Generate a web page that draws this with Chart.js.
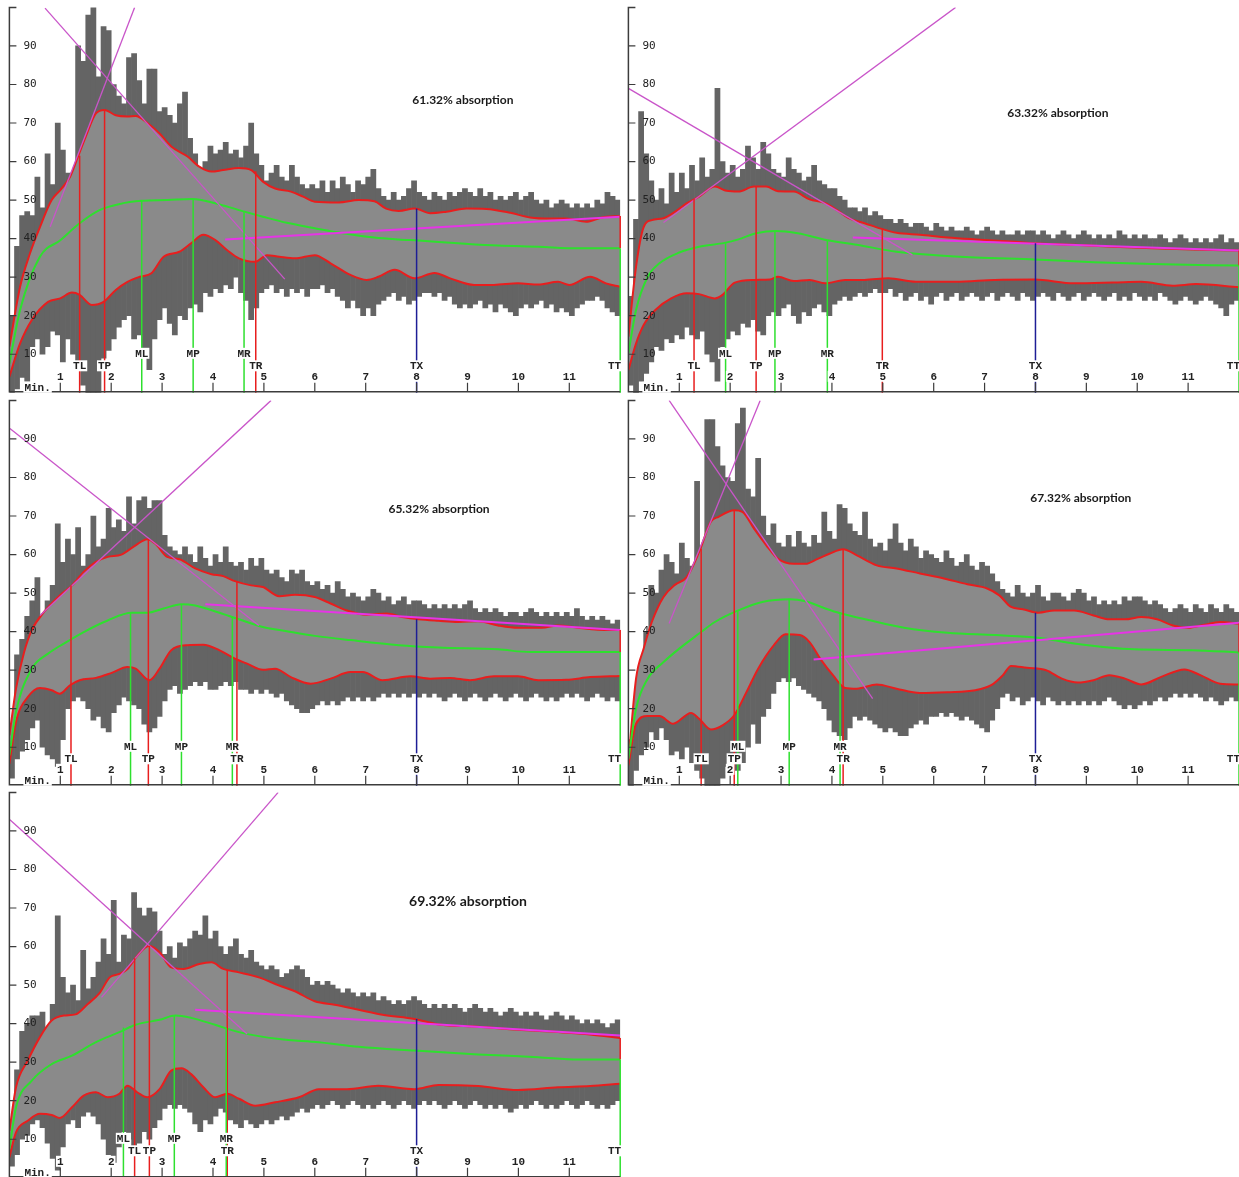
<!DOCTYPE html>
<html>
<head>
<meta charset="utf-8">
<script src="https://cdn.jsdelivr.net/npm/chart.js@4.4.1/dist/chart.umd.min.js"></script>
<style>
  html, body { margin: 0; padding: 0; background: #fff; overflow: hidden; }
  body { width: 1239px; height: 1177px; position: relative; }
  .panel { position: absolute; }
  canvas { display: block; }
</style>
</head>
<body>
<div class="panel" style="left:0;top:0"><canvas id="c1" width="622" height="394"></canvas></div>
<div class="panel" style="left:619px;top:0"><canvas id="c2" width="620" height="394"></canvas></div>
<div class="panel" style="left:0;top:393px"><canvas id="c3" width="622" height="394"></canvas></div>
<div class="panel" style="left:619px;top:393px"><canvas id="c4" width="620" height="394"></canvas></div>
<div class="panel" style="left:0;top:785px"><canvas id="c5" width="622" height="394"></canvas></div>
<script>
// ---- axes ----
const yTicks = [10, 20, 30, 40, 50, 60, 70, 80, 90];
const xTicks = [1, 2, 3, 4, 5, 6, 7, 8, 9, 10, 11];

// centre of each 0.1 min sample bin of the raw signal
const binMinutes = [
  0.05, 0.15, 0.25, 0.35, 0.45, 0.55, 0.65, 0.75, 0.85, 0.95,
  1.05, 1.15, 1.25, 1.35, 1.45, 1.55, 1.65, 1.75, 1.85, 1.95,
  2.05, 2.15, 2.25, 2.35, 2.45, 2.55, 2.65, 2.75, 2.85, 2.95,
  3.05, 3.15, 3.25, 3.35, 3.45, 3.55, 3.65, 3.75, 3.85, 3.95,
  4.05, 4.15, 4.25, 4.35, 4.45, 4.55, 4.65, 4.75, 4.85, 4.95,
  5.05, 5.15, 5.25, 5.35, 5.45, 5.55, 5.65, 5.75, 5.85, 5.95,
  6.05, 6.15, 6.25, 6.35, 6.45, 6.55, 6.65, 6.75, 6.85, 6.95,
  7.05, 7.15, 7.25, 7.35, 7.45, 7.55, 7.65, 7.75, 7.85, 7.95,
  8.05, 8.15, 8.25, 8.35, 8.45, 8.55, 8.65, 8.75, 8.85, 8.95,
  9.05, 9.15, 9.25, 9.35, 9.45, 9.55, 9.65, 9.75, 9.85, 9.95,
  10.05, 10.15, 10.25, 10.35, 10.45, 10.55, 10.65, 10.75, 10.85, 10.95,
  11.05, 11.15, 11.25, 11.35, 11.45, 11.55, 11.65, 11.75, 11.85, 11.95
];

const absorptionText = ['61.32% absorption', '63.32% absorption', '65.32% absorption', '67.32% absorption', '69.32% absorption'];

// ---- 61.32% ----
const p1Hi = [
  20, 38, 46, 47, 46, 56, 48, 62, 54, 70,
  63, 57, 54, 90, 86, 98, 100, 82, 95, 94,
  80, 77, 75, 87, 88, 81, 75, 84, 84, 73,
  74, 72, 70, 75, 78, 66, 62, 58, 60, 64,
  62, 63, 65, 62, 63, 61, 64, 70, 62, 59,
  55, 57, 59, 56, 55, 59, 56, 54, 53, 54,
  53, 55, 52, 55, 53, 56, 54, 52, 55, 54,
  56, 58, 53, 51, 50, 52, 50, 51, 53, 55,
  52, 51, 50, 52, 51, 50, 52, 51, 52, 53,
  52, 51, 53, 51, 52, 50, 51, 50, 51, 52,
  50, 51, 52, 50, 49, 50, 48, 49, 50, 49,
  48, 49, 48, 49, 48, 50, 49, 52, 51, 50
];
const p1Lo = [
  0, 1, 4, 3, 12, 14, 10, 12, 16, 15,
  8, 14, 10, 7, 2, 0, 0, 0, 9, 11,
  14, 17, 19, 20, 14, 15, 10, 6, 14, 19,
  22, 18, 15, 20, 19, 22, 23, 21, 26, 25,
  27, 26, 28, 27, 30, 26, 24, 19, 22, 26,
  27, 28, 26, 27, 25, 27, 26, 27, 25, 27,
  27, 28, 26, 27, 25, 24, 22, 24, 22, 20,
  22, 20, 23, 24, 25, 26, 24, 25, 23, 24,
  25, 26, 26, 25, 26, 24, 25, 23, 22, 23,
  22, 23, 24, 22, 23, 21, 23, 22, 21, 20,
  22, 23, 22, 23, 24, 22, 23, 21, 22, 21,
  20, 22, 23, 24, 24, 25, 24, 22, 21, 20
];
const p1Upper = [[0, 12], [0.21, 27.5], [0.4, 36], [0.6, 43], [0.83, 50], [1.0, 52.6], [1.19, 56], [1.34, 61], [1.5, 66.5], [1.7, 72.5], [1.87, 73.4], [2.09, 72], [2.32, 71.7], [2.48, 71.8], [2.71, 70], [2.95, 67.3], [3.18, 63.9], [3.5, 61.3], [3.73, 58.7], [3.97, 57.4], [4.2, 57.8], [4.51, 58.3], [4.75, 57.8], [4.98, 54.8], [5.22, 53], [5.53, 52.2], [5.77, 50.9], [6.0, 49.6], [6.47, 49.4], [6.86, 50], [7.17, 49.7], [7.4, 47.8], [7.65, 47.2], [7.96, 47.8], [8.27, 46.6], [8.59, 47], [8.98, 47.8], [9.37, 47.7], [9.84, 46.7], [10.23, 45.5], [10.62, 45.2], [10.94, 45.2], [11.33, 44.4], [11.64, 45.5], [12, 45.9]];
const p1Lower = [[0, 4.2], [0.21, 12.8], [0.44, 18.9], [0.76, 23.6], [1.0, 24.5], [1.23, 26], [1.38, 25.4], [1.62, 22.8], [1.85, 23.6], [2.09, 26.7], [2.32, 28.8], [2.56, 30.1], [2.79, 31], [3.03, 35.3], [3.34, 36.6], [3.57, 38.8], [3.81, 41], [4.04, 39.7], [4.28, 37], [4.51, 34.9], [4.83, 34], [5.06, 35.7], [5.3, 35.3], [5.61, 34.9], [6.0, 35.7], [6.31, 33.6], [6.7, 30.6], [7.02, 29.3], [7.25, 30.1], [7.57, 31.9], [7.96, 29.7], [8.35, 31.1], [8.66, 29.7], [9.13, 28], [9.52, 28], [9.99, 28.4], [10.39, 28.1], [10.78, 28.8], [11.0, 28], [11.41, 30.1], [11.72, 28.4], [12, 27.5]];
const p1Mean = [[0, 7.6], [0.21, 21.5], [0.6, 35.3], [1.0, 39.6], [1.38, 44], [1.77, 47.4], [2.17, 49], [2.6, 49.8], [3.1, 50], [3.6, 50.3], [4.04, 49.2], [4.51, 47.4], [4.98, 45.7], [5.45, 44.1], [6.0, 42.7], [6.55, 41.4], [7.17, 40.3], [7.65, 39.8], [8.04, 39.5], [8.82, 38.8], [9.6, 38.2], [10.39, 37.9], [11.17, 37.5], [12, 37.5]];
const p1Falling = [[0.7, 99.8], [5.41, 29.5]];
const p1Rising = [[0.8, 43.1], [2.46, 100]];
const p1Plateau = [[4.24, 39.8], [12, 45.7]];
const p1MarkerNames = ['TL', 'TP', 'ML', 'MP', 'MR', 'TR', 'TX', 'TT'];
const p1MarkerMinutes = [1.38, 1.87, 2.6, 3.61, 4.61, 4.84, 8, 12];
const p1MarkerTops = [61.5, 73.4, 49.8, 50.3, 47.2, 57.5, 47.8, 37.5];

// ---- 63.32% ----
const p2Hi = [
  25, 45, 73, 62, 55, 50, 53, 49, 57, 52,
  57, 53, 59, 55, 61, 56, 58, 79, 60, 57,
  59, 56, 58, 64, 61, 58, 65, 62, 58, 57,
  56, 61, 58, 57, 55, 56, 59, 55, 54, 53,
  53, 51, 50, 48, 48, 47, 48, 46, 47, 46,
  45, 45, 44, 45, 44, 43, 44, 44, 43, 42,
  44, 43, 42, 43, 42, 42, 43, 42, 41, 42,
  43, 42, 41, 42, 41, 41, 42, 41, 42, 42,
  41, 42, 41, 40, 41, 42, 41, 40, 41, 42,
  41, 40, 41, 40, 41, 40, 42, 41, 40, 41,
  40, 41, 40, 40, 41, 40, 39, 40, 41, 40,
  39, 40, 39, 40, 39, 40, 41, 39, 40, 39
];
const p2Lo = [
  2, 0, 3, 5, 8, 12, 11, 14, 13, 15,
  14, 17, 15, 14, 16, 10, 8, 3, 12, 14,
  16, 15, 18, 17, 19, 16, 15, 20, 21, 20,
  22, 23, 20, 18, 21, 20, 22, 23, 21, 20,
  23, 24, 25, 24, 25, 26, 25, 26, 27, 26,
  26, 27, 25, 26, 24, 25, 26, 24, 25, 23,
  25, 26, 24, 25, 26, 24, 25, 26, 25, 24,
  25, 26, 24, 25, 26, 25, 24, 26, 25, 24,
  25, 26, 25, 24, 26, 25, 24, 25, 26, 24,
  25, 26, 25, 24, 25, 26, 24, 25, 24, 26,
  25, 24, 25, 24, 26, 25, 24, 23, 24, 25,
  24, 23, 24, 25, 24, 23, 22, 20, 23, 24
];
const p2Upper = [[0, 14.6], [0.15, 32.7], [0.3, 43], [0.46, 44.8], [0.69, 45.3], [0.92, 47], [1.15, 49.2], [1.39, 50.9], [1.7, 53.5], [1.93, 52.4], [2.16, 52.2], [2.47, 53.5], [2.71, 53.5], [2.94, 52.3], [3.25, 52.2], [3.56, 50.2], [3.87, 49.2], [4.1, 47.4], [4.33, 45.3], [4.64, 44], [4.96, 42.6], [5.27, 41.5], [5.73, 41], [6.27, 40.3], [6.82, 39.8], [7.59, 39.2], [7.98, 38.8], [8.76, 38.4], [9.53, 37.9], [10.31, 37.5], [11.08, 37.2], [12, 36.9]];
const p2Lower = [[0, 5.9], [0.15, 12.8], [0.3, 17.6], [0.53, 21.5], [0.84, 24.5], [1.15, 25.8], [1.39, 25.6], [1.7, 24.5], [1.85, 25.4], [2.09, 28.6], [2.47, 29.3], [2.78, 29.4], [2.94, 30.1], [3.25, 29], [3.56, 29.3], [3.87, 28.4], [4.26, 29.3], [4.64, 29.3], [5.11, 29.7], [5.65, 28.8], [6.43, 28.8], [7.2, 29.3], [7.98, 29.4], [8.76, 28.4], [9.53, 28.6], [10.08, 28.8], [10.7, 27.8], [11.16, 28.2], [12, 27.4]];
const p2Mean = [[0, 10.2], [0.15, 21.5], [0.38, 30.1], [0.61, 33.6], [1.0, 36.4], [1.39, 37.9], [1.89, 38.9], [2.16, 39.8], [2.51, 41.4], [2.9, 42], [3.33, 41.4], [3.91, 39.6], [4.49, 38.4], [5.27, 36.6], [6.04, 35.7], [6.82, 35.1], [7.98, 34.6], [9.14, 33.9], [10.31, 33.4], [12, 33]];
const p2Falling = [[0, 79], [5.58, 35.8]];
const p2Rising = [[0.69, 44.2], [6.43, 100]];
const p2Plateau = [[4.41, 40.3], [12, 36.9]];
const p2MarkerNames = ['TL', 'ML', 'TP', 'MP', 'MR', 'TR', 'TX', 'TT'];
const p2MarkerMinutes = [1.29, 1.91, 2.51, 2.88, 3.91, 4.99, 8, 12];
const p2MarkerTops = [50.3, 38.9, 53.5, 42, 39.6, 42.6, 38.8, 33];

// ---- 65.32% ----
const p3Hi = [
  15, 34, 38, 44, 48, 54, 42, 48, 52, 68,
  58, 64, 60, 67, 57, 60, 70, 62, 64, 72,
  67, 69, 66, 75, 68, 74, 75, 72, 74, 74,
  65, 62, 61, 60, 62, 60, 58, 62, 59, 57,
  60, 58, 62, 58, 57, 58, 56, 59, 57, 59,
  56, 55, 56, 54, 53, 56, 55, 56, 53, 52,
  53, 51, 52, 50, 53, 51, 49, 50, 49, 48,
  49, 51, 50, 48, 49, 47, 48, 49, 47, 48,
  48, 47, 46, 47, 46, 47, 46, 47, 46, 47,
  48, 46, 45, 46, 45, 46, 45, 44, 45, 45,
  44, 45, 46, 45, 44, 45, 44, 45, 44, 45,
  44, 46, 44, 43, 44, 43, 44, 43, 42, 43
];
const p3Lo = [
  2, 7, 9, 12, 15, 17, 10, 8, 7, 5,
  12, 20, 22, 23, 22, 20, 17, 18, 15, 14,
  19, 21, 23, 22, 21, 20, 16, 14, 15, 18,
  22, 25, 26, 24, 25, 26, 27, 26, 27, 25,
  25, 26, 27, 26, 27, 25, 25, 24, 25, 24,
  25, 24, 23, 24, 22, 21, 20, 19, 19, 20,
  21, 22, 21, 22, 21, 22, 23, 22, 23, 22,
  23, 22, 23, 24, 23, 24, 23, 24, 23, 24,
  23, 24, 23, 24, 23, 22, 23, 24, 23, 22,
  23, 24, 23, 22, 23, 24, 23, 22, 23, 24,
  23, 22, 23, 24, 23, 22, 23, 22, 23, 24,
  23, 24, 23, 22, 23, 24, 23, 22, 23, 22
];
const p3Upper = [[0, 13.1], [0.13, 25.2], [0.29, 34.7], [0.44, 40.4], [0.68, 45.1], [0.99, 49.4], [1.23, 52], [1.46, 55.5], [1.7, 58.1], [1.93, 59.4], [2.2, 60], [2.48, 62.4], [2.71, 64], [2.87, 62.8], [3.1, 59.4], [3.34, 58.8], [3.65, 56.4], [3.97, 54.9], [4.2, 54.4], [4.43, 53.1], [4.75, 52], [4.98, 51.6], [5.3, 49.2], [5.61, 49.6], [6.0, 49], [6.31, 47.3], [6.63, 45.5], [7.02, 44.4], [7.41, 44.7], [7.72, 43.8], [8.04, 43.2], [8.43, 42.8], [8.82, 42.5], [9.21, 42.7], [9.6, 41.6], [9.99, 41], [10.46, 41], [10.78, 41.6], [11.17, 41], [11.56, 40.5], [12, 40.4]];
const p3Lower = [[0, 5.7], [0.13, 16.6], [0.36, 23], [0.6, 25.4], [0.83, 24.8], [0.99, 23.9], [1.19, 26.1], [1.38, 27.4], [1.7, 28], [2.01, 29.3], [2.32, 30.8], [2.48, 30.4], [2.75, 27.4], [2.95, 30.4], [3.18, 35.2], [3.5, 36.5], [3.81, 36.6], [4.12, 35.2], [4.43, 33], [4.67, 31.7], [4.98, 30.1], [5.22, 30.4], [5.53, 28.2], [5.92, 26.5], [6.31, 27.8], [6.7, 29.5], [6.94, 29.5], [7.33, 27.4], [7.88, 28.4], [8.27, 27.8], [8.66, 28], [9.05, 27.4], [9.52, 28.4], [9.99, 28.4], [10.39, 27.4], [10.94, 27.5], [11.41, 28.2], [12, 28.5]];
const p3Mean = [[0, 7.9], [0.13, 19.2], [0.44, 30.4], [0.76, 34.3], [1.07, 36.9], [1.46, 39.9], [1.93, 42.9], [2.4, 44.9], [2.71, 44.9], [3.03, 46], [3.38, 47.1], [3.65, 46.8], [4.08, 45.1], [4.51, 43.2], [4.98, 41.2], [5.45, 40.1], [6.0, 38.9], [6.7, 37.8], [7.65, 36.5], [8.43, 35.9], [9.6, 35.4], [10.23, 34.7], [12, 34.7]];
const p3Falling = [[0.01, 92.7], [4.9, 41.6]];
const p3Rising = [[0.6, 44.2], [5.14, 100]];
const p3Plateau = [[3.85, 47.1], [12, 40.4]];
const p3MarkerNames = ['TL', 'ML', 'TP', 'MP', 'MR', 'TR', 'TX', 'TT'];
const p3MarkerMinutes = [1.21, 2.38, 2.73, 3.38, 4.38, 4.47, 8, 12];
const p3MarkerTops = [52, 44.9, 64, 47.1, 43.6, 53, 43.2, 34.7];

// ---- 67.32% ----
const p4Hi = [
  12, 22, 30, 40, 52, 50, 56, 60, 58, 55,
  63, 59, 57, 79, 58, 95, 95, 88, 83, 80,
  79, 94, 98, 77, 75, 85, 70, 65, 68, 63,
  62, 65, 62, 66, 63, 62, 65, 63, 71, 66,
  64, 73, 72, 68, 66, 65, 71, 64, 62, 63,
  61, 64, 68, 63, 61, 64, 62, 59, 61, 60,
  59, 58, 61, 59, 57, 58, 60, 57, 56, 58,
  57, 55, 53, 51, 50, 49, 52, 50, 49, 50,
  52, 49, 48, 50, 50, 49, 48, 50, 51, 50,
  48, 49, 47, 48, 47, 48, 47, 49, 48, 49,
  49, 48, 47, 48, 47, 46, 45, 46, 47, 46,
  45, 47, 46, 45, 47, 46, 45, 47, 46, 45
];
const p4Lo = [
  0, 4, 8, 10, 14, 12, 15, 12, 8, 9,
  7, 10, 6, 4, 2, 0, 0, 0, 2, 5,
  6, 4, 6, 10, 16, 11, 18, 20, 24, 27,
  28, 27, 28, 26, 25, 24, 23, 22, 20, 17,
  14, 13, 12, 15, 18, 17, 18, 17, 16, 15,
  14, 15, 14, 13, 13, 15, 16, 17, 16, 18,
  18, 19, 18, 19, 18, 17, 18, 17, 16, 15,
  14, 17, 20, 23, 24, 22, 23, 21, 22, 23,
  22, 21, 23, 22, 21, 22, 21, 22, 21, 22,
  21, 22, 21, 22, 23, 22, 21, 20, 21, 20,
  21, 22, 21, 22, 23, 22, 23, 24, 23, 24,
  23, 24, 23, 22, 23, 22, 21, 22, 23, 22
];
const p4Upper = [[0, 6.2], [0.15, 27.8], [0.3, 35.6], [0.46, 42.5], [0.69, 49], [0.92, 52.2], [1.15, 54.2], [1.39, 60.7], [1.62, 68.5], [1.77, 69.8], [2.08, 71.5], [2.24, 71.1], [2.47, 66.7], [2.71, 62.4], [2.94, 58.9], [3.25, 57.6], [3.48, 57.6], [3.72, 58.9], [3.95, 60.2], [4.22, 61.4], [4.49, 59.8], [4.88, 57.2], [5.27, 56.4], [5.73, 55.1], [6.2, 53.8], [6.66, 52.3], [7.05, 51.2], [7.29, 49.4], [7.52, 46.4], [7.75, 45.8], [8.06, 44.9], [8.37, 45.5], [8.76, 45.5], [9.14, 44.2], [9.45, 43.2], [9.76, 43.2], [10.08, 43.8], [10.39, 43.2], [10.7, 41.6], [11.0, 41], [11.32, 41.8], [11.63, 42.5], [12, 42.1]];
const p4Lower = [[0, 5.3], [0.15, 16.1], [0.38, 18.1], [0.61, 18.1], [0.88, 16.1], [1.23, 18.9], [1.39, 17.4], [1.62, 14.6], [1.85, 15.7], [2.08, 18.3], [2.32, 24.3], [2.55, 30.4], [2.86, 36.5], [3.09, 39.3], [3.37, 39.1], [3.56, 37.3], [3.79, 32.6], [4.02, 28.7], [4.26, 25.4], [4.49, 25.2], [4.88, 26.3], [5.27, 25.2], [5.73, 24.1], [6.27, 24.3], [6.82, 24.8], [7.13, 26.1], [7.36, 28.7], [7.52, 31.1], [7.83, 30.6], [8.21, 30], [8.52, 27.8], [8.83, 26.8], [9.14, 27.4], [9.45, 28.7], [9.76, 27.8], [10.08, 26.3], [10.46, 28.2], [10.93, 30.2], [11.24, 28.7], [11.63, 26.5], [12, 26.3]];
const p4Mean = [[0, 7], [0.15, 20], [0.38, 27.8], [0.69, 32.1], [1.0, 35.6], [1.39, 39.5], [1.7, 42.5], [2.16, 45.5], [2.63, 47.7], [3.17, 48.4], [3.48, 47.9], [3.87, 46], [4.18, 44.7], [4.72, 43], [5.42, 41], [6.27, 39.7], [7.2, 39.1], [8.06, 38.4], [8.76, 36.9], [9.94, 35.4], [11.08, 35.2], [12, 34.6]];
const p4Falling = [[0.8, 100], [4.8, 22.6]];
const p4Rising = [[0.8, 42.1], [2.59, 100]];
const p4Plateau = [[3.64, 32.8], [12, 42.3]];
const p4MarkerNames = ['TL', 'TP', 'ML', 'MP', 'MR', 'TR', 'TX', 'TT'];
const p4MarkerMinutes = [1.43, 2.08, 2.15, 3.16, 4.16, 4.22, 8, 12];
const p4MarkerTops = [61.5, 71.5, 45.5, 48.4, 45, 61.4, 44.9, 34.6];

// ---- 69.32% ----
const p5Hi = [
  14, 28, 38, 40, 42, 42, 43, 39, 45, 68,
  52, 48, 50, 46, 59, 49, 52, 56, 62, 58,
  72, 56, 63, 62, 74, 70, 68, 70, 69, 64,
  58, 60, 57, 61, 60, 62, 64, 63, 68, 62,
  64, 60, 58, 60, 62, 58, 57, 59, 56, 55,
  54, 55, 54, 52, 53, 54, 55, 54, 52, 50,
  51, 50, 51, 50, 49, 48, 49, 48, 47, 48,
  47, 48, 46, 47, 46, 45, 46, 45, 46, 47,
  46, 45, 44, 45, 44, 45, 44, 45, 44, 43,
  44, 45, 44, 43, 44, 43, 42, 43, 44, 43,
  42, 43, 42, 43, 42, 41, 42, 43, 42, 41,
  42, 41, 40, 41, 40, 41, 40, 39, 40, 41
];
const p5Lo = [
  3, 6, 10, 11, 14, 15, 13, 9, 5, 2,
  8, 14, 15, 13, 16, 17, 16, 14, 10, 6,
  4, 8, 12, 10, 6, 9, 12, 10, 13, 15,
  18, 19, 18, 19, 18, 17, 14, 12, 15, 14,
  16, 18, 17, 15, 14, 13, 15, 14, 13, 14,
  15, 14, 15, 16, 15, 16, 17, 18, 17, 18,
  19, 18, 19, 20, 19, 18, 19, 20, 19, 18,
  19, 18, 19, 20, 19, 18, 19, 20, 19, 18,
  19, 20, 19, 20, 19, 18, 19, 20, 19, 18,
  19, 20, 19, 18, 19, 18, 19, 18, 17, 18,
  19, 18, 19, 20, 19, 18, 19, 18, 19, 20,
  19, 18, 19, 20, 19, 18, 19, 18, 19, 20
];
const p5Upper = [[0, 12.2], [0.13, 23.5], [0.36, 30.4], [0.6, 36.5], [0.83, 40.8], [1.07, 42.1], [1.3, 42.4], [1.54, 45.1], [1.77, 47.9], [1.97, 52], [2.16, 52.9], [2.32, 54.2], [2.51, 57.6], [2.75, 60.2], [2.95, 58.5], [3.18, 54.6], [3.42, 54.2], [3.73, 55.5], [3.97, 55.9], [4.2, 54.2], [4.51, 53.3], [4.9, 52], [5.3, 49.9], [5.61, 48.4], [6.0, 45.8], [6.39, 44.9], [6.86, 43.6], [7.33, 42.3], [7.96, 41.2], [8.43, 39.8], [9.21, 39.2], [9.99, 38.4], [10.78, 37.8], [11.41, 37.2], [12, 36.3]];
const p5Lower = [[0, 5.3], [0.13, 11.8], [0.36, 14.8], [0.6, 16.6], [0.83, 16.3], [0.99, 15.5], [1.23, 18.3], [1.46, 21.3], [1.7, 22.2], [1.93, 20.9], [2.16, 21.8], [2.32, 23.9], [2.51, 22.2], [2.71, 20.9], [2.95, 23], [3.18, 27.8], [3.38, 28.4], [3.57, 26.9], [3.81, 23.5], [4.04, 20.9], [4.28, 21.8], [4.51, 20.5], [4.83, 18.7], [5.22, 19.6], [5.69, 20.9], [6.08, 23], [6.63, 23], [7.25, 23.9], [7.96, 23], [8.43, 24.1], [9.21, 23.8], [9.99, 22.8], [10.78, 23.5], [11.41, 23.8], [12, 24.4]];
const p5Mean = [[0, 7.5], [0.13, 18.3], [0.44, 25.2], [0.83, 29.5], [1.23, 31.7], [1.7, 35.2], [2.16, 37.8], [2.48, 39.7], [2.95, 41], [3.26, 42.1], [3.57, 41.5], [4.04, 39.7], [4.51, 37.8], [5.3, 36], [6.08, 35.2], [6.86, 34], [7.96, 33], [9.21, 32], [10.39, 31.3], [11.17, 30.7], [12, 30.7]];
const p5Falling = [[0.01, 92.9], [4.67, 37.3]];
const p5Rising = [[1.81, 46.8], [5.28, 100]];
const p5Plateau = [[3.65, 43.6], [12, 36.9]];
const p5MarkerNames = ['ML', 'TL', 'TP', 'MP', 'MR', 'TR', 'TX', 'TT'];
const p5MarkerMinutes = [2.24, 2.46, 2.75, 3.24, 4.26, 4.28, 8, 12];
const p5MarkerTops = [39, 57, 60.2, 42, 38.9, 54, 41.2, 30.7];

// where the absorption caption sits, in (min, value) of each panel
const captionAt = [[8.91, 76], [8.44, 72.6], [8.44, 71.7], [8.89, 74.6], [9.01, 71.7]];

// ---- styles ----
const RED = '#e81e1e';
const GREEN = '#2ee02e';
const BLUE = '#1e1e96';
const MAGENTA = '#c955c9';
const PINK = '#e634e6';
const BAND = '#646464';
const CORE = '#8a8a8a';
const INK = '#222222';

function pts(pairs) {
    return pairs.map(([x, y]) => ({ x, y }));
}

function line(data, color, width, order, extra) {
    return Object.assign({
        type: 'line',
        data,
        borderColor: color,
        borderWidth: width,
        pointRadius: 0,
        fill: false,
        tension: 0,
        order
    }, extra || {});
}

function markerColor(name) {
    if (name === 'TX') return BLUE;
    if (name === 'TT' || name[0] === 'M') return GREEN;
    return RED;
}

// 坐标轴、刻度和标签
function decor(p, caption, at) {
    return {
        id: 'decor',
        afterDatasetsDraw(chart) {
            const { ctx, chartArea: a, scales: { x, y } } = chart;
            const axisY = a.bottom - 1;
            const top = y.getPixelForValue(100);
            ctx.save();

            // y labels, right of the axis
            ctx.font = '11px "DejaVu Sans Mono"';
            ctx.fillStyle = INK;
            ctx.textBaseline = 'middle';
            ctx.textAlign = 'left';
            yTicks.forEach(v => ctx.fillText(String(v), a.left + 14, y.getPixelForValue(v)));

            // axis lines
            ctx.strokeStyle = '#3c3c3c';
            ctx.lineWidth = 1.5;
            ctx.beginPath();
            ctx.moveTo(a.left + 7, top);
            ctx.lineTo(a.left, top);
            ctx.lineTo(a.left, axisY);
            ctx.lineTo(a.right, axisY);
            ctx.stroke();

            ctx.lineWidth = 1.2;
            ctx.beginPath();
            yTicks.forEach(v => {
                const py = y.getPixelForValue(v);
                ctx.moveTo(a.left, py);
                ctx.lineTo(a.left + 7, py);
            });
            xTicks.forEach(v => {
                const px = x.getPixelForValue(v);
                ctx.moveTo(px, axisY);
                ctx.lineTo(px, axisY - 9);
            });
            ctx.stroke();

            const boxed = (txt, cx, cy, align) => {
                const w = ctx.measureText(txt).width;
                const left = align === 'right' ? cx - w : align === 'left' ? cx : cx - w / 2;
                ctx.fillStyle = '#fff';
                ctx.fillRect(left - 1, cy - 5.5, w + 2, 11);
                ctx.fillStyle = INK;
                ctx.textAlign = 'left';
                ctx.fillText(txt, left, cy + 0.5);
            };

            ctx.font = 'bold 11px "Liberation Mono"';
            ctx.textBaseline = 'middle';
            xTicks.forEach(v => boxed(String(v), x.getPixelForValue(v), axisY - 15.5, 'center'));
            boxed('Min.', a.left + 15, axisY - 4.5, 'left');

            p.markerNames.forEach((name, i) => {
                const px = x.getPixelForValue(p.markerMinutes[i]);
                const cy = name[0] === 'M' ? axisY - 38.5 : axisY - 26;
                boxed(name, name === 'TT' ? a.right + 1 : px, cy, name === 'TT' ? 'right' : 'center');
            });

            // absorption caption
            ctx.font = at.big ? 'bold 14px Lato' : 'bold 12px Lato';
            ctx.fillStyle = '#1a1a1a';
            ctx.textAlign = 'center';
            ctx.fillText(caption, x.getPixelForValue(at.pos[0]), y.getPixelForValue(at.pos[1]));
            ctx.restore();
        }
    };
}

function drawPanel(id, p, caption, at) {
    const canvas = document.getElementById(id);
    const lastUpper = p.upper[p.upper.length - 1][1];
    const datasets = [
        {
            type: 'bar',
            data: binMinutes.map((t, i) => ({ x: t, y: [p.lo[i], p.hi[i]] })),
            backgroundColor: BAND,
            borderWidth: 0,
            barPercentage: 1,
            categoryPercentage: 1,
            order: 10
        },
        line(pts(p.upper), RED, 2, 6, { cubicInterpolationMode: 'monotone', fill: '+1', backgroundColor: CORE }),
        line(pts(p.lower), RED, 2, 5, { cubicInterpolationMode: 'monotone' }),
        line(pts(p.mean), GREEN, 2, 4, { cubicInterpolationMode: 'monotone' }),
        line(pts(p.falling), MAGENTA, 1.3, 3),
        line(pts(p.rising), MAGENTA, 1.3, 3),
        line(pts(p.plateau), PINK, 2, 3)
    ];
    p.markerNames.forEach((name, i) => {
        const t = p.markerMinutes[i];
        datasets.push(line([{ x: t, y: 0 }, { x: t, y: p.markerTops[i] }], markerColor(name), 1.5, 1, { clip: false }));
        if (name === 'TT') {
            datasets.push(line([{ x: t, y: p.markerTops[i] }, { x: t, y: lastUpper }], RED, 1.5, 1, { clip: false }));
        }
    });

    new Chart(canvas, {
        type: 'line',
        data: { datasets },
        options: {
            responsive: false,
            animation: false,
            devicePixelRatio: 1,
            events: [],
            layout: {
                padding: {
                    left: 9.4,
                    right: Math.max(0, canvas.width - 9.4 - 610.8),
                    top: 7.4,
                    bottom: canvas.height - 392.8
                }
            },
            scales: {
                x: { type: 'linear', min: 0, max: 12, display: false, offset: false },
                y: { type: 'linear', min: 0, max: 100, display: false }
            },
            plugins: {
                legend: { display: false },
                tooltip: { enabled: false }
            }
        },
        plugins: [decor(p, caption, at)]
    });
}

drawPanel('c1', { hi: p1Hi, lo: p1Lo, upper: p1Upper, lower: p1Lower, mean: p1Mean, falling: p1Falling, rising: p1Rising, plateau: p1Plateau, markerNames: p1MarkerNames, markerMinutes: p1MarkerMinutes, markerTops: p1MarkerTops }, absorptionText[0], { pos: captionAt[0] });
drawPanel('c2', { hi: p2Hi, lo: p2Lo, upper: p2Upper, lower: p2Lower, mean: p2Mean, falling: p2Falling, rising: p2Rising, plateau: p2Plateau, markerNames: p2MarkerNames, markerMinutes: p2MarkerMinutes, markerTops: p2MarkerTops }, absorptionText[1], { pos: captionAt[1] });
drawPanel('c3', { hi: p3Hi, lo: p3Lo, upper: p3Upper, lower: p3Lower, mean: p3Mean, falling: p3Falling, rising: p3Rising, plateau: p3Plateau, markerNames: p3MarkerNames, markerMinutes: p3MarkerMinutes, markerTops: p3MarkerTops }, absorptionText[2], { pos: captionAt[2] });
drawPanel('c4', { hi: p4Hi, lo: p4Lo, upper: p4Upper, lower: p4Lower, mean: p4Mean, falling: p4Falling, rising: p4Rising, plateau: p4Plateau, markerNames: p4MarkerNames, markerMinutes: p4MarkerMinutes, markerTops: p4MarkerTops }, absorptionText[3], { pos: captionAt[3] });
drawPanel('c5', { hi: p5Hi, lo: p5Lo, upper: p5Upper, lower: p5Lower, mean: p5Mean, falling: p5Falling, rising: p5Rising, plateau: p5Plateau, markerNames: p5MarkerNames, markerMinutes: p5MarkerMinutes, markerTops: p5MarkerTops }, absorptionText[4], { pos: captionAt[4], big: true });
</script>
</body>
</html>
